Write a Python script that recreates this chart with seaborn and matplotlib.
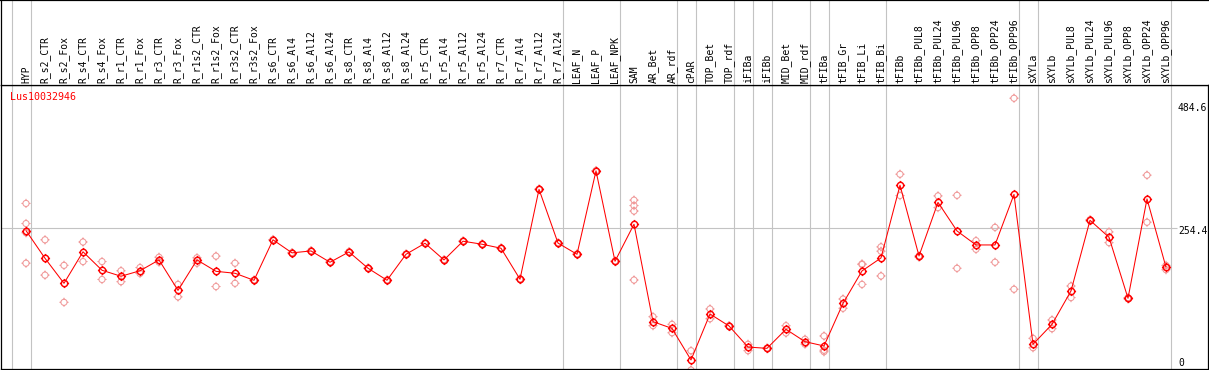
import numpy as np
import pandas as pd
import matplotlib
matplotlib.use("Agg")
import matplotlib.pyplot as plt
import seaborn as sns
from matplotlib.path import Path

# ---------------- data ----------------
title = "Lus10032946"

categories = [
    "HYP", "R_s2_CTR", "R_s2_Fox", "R_s4_CTR", "R_s4_Fox", "R_r1_CTR", "R_r1_Fox",
    "R_r3_CTR", "R_r3_Fox", "R_r1s2_CTR", "R_r1s2_Fox", "R_r3s2_CTR", "R_r3s2_Fox",
    "R_s6_CTR", "R_s6_Al4", "R_s6_Al12", "R_s6_Al24", "R_s8_CTR", "R_s8_Al4",
    "R_s8_Al12", "R_s8_Al24", "R_r5_CTR", "R_r5_Al4", "R_r5_Al12", "R_r5_Al24",
    "R_r7_CTR", "R_r7_Al4", "R_r7_Al12", "R_r7_Al24", "LEAF_N", "LEAF_P", "LEAF_NPK",
    "SAM", "AR_Bet", "AR_rdf", "cPAR", "TOP_Bet", "TOP_rdf", "iFIBa", "iFIBb",
    "MID_Bet", "MID_rdf", "tFIBa", "tFIB_Gr", "tFIB_Li", "tFIB_Bi", "tFIBb",
    "tFIBb_PUL8", "tFIBb_PUL24", "tFIBb_PUL96", "tFIBb_OPP8", "tFIBb_OPP24",
    "tFIBb_OPP96", "sXYLa", "sXYLb", "sXYLb_PUL8", "sXYLb_PUL24", "sXYLb_PUL96",
    "sXYLb_OPP8", "sXYLb_OPP24", "sXYLb_OPP96",
]

# number of consecutive categories in each sample group
group_sizes = [1, 28, 3, 3, 1, 2, 1, 1, 2, 1, 3, 7, 1, 7]

means = [
    250.3, 201.3, 157.0, 212.8, 180.1, 169.5, 179.2, 198.4, 144.5, 198.4, 178.2, 174.8, 162.3,
    234.0, 210.9, 214.3, 194.3, 212.5, 183.7, 162.4, 208.4,
    227.9, 198.4, 231.5, 226.2, 219.1, 164.2, 323.4, 228.2,
    208.4, 356.1, 196.0,
    261.6, 89.1, 77.2,
    21.3, 102.7, 81.5, 44.2, 41.9, 75.6, 53.7, 46.1,
    121.5, 178.9, 201.9,
    330.6, 205.4, 300.3, 249.7, 224.9, 224.9, 314.4,
    49.1, 84.4, 143.5, 268.6, 238.5, 130.5, 306.4, 185.4,
]

replicates = [
    [298.4, 262.8, 246.5, 192.6], [234.0, 171.5], [188.8, 123.4], [230.1, 195.5],
    [195.5, 163.8], [179.2, 159.9], [184.9, 174.4], [203.2, 194.5], [155.1, 133.0],
    [202.2, 192.6], [205.1, 151.3], [192.6, 157.0], [162.8, 161.8],
    [234.5, 233.5], [211.4, 210.4], [214.8, 213.8], [194.8, 193.8], [213.0, 212.0],
    [184.2, 183.2], [162.9, 161.9], [208.9, 207.9],
    [228.4, 227.4], [198.9, 197.9], [232.0, 231.0], [226.7, 225.7], [219.6, 218.6],
    [164.7, 163.7], [323.9, 322.9], [228.7, 227.7],
    [208.9, 207.9], [356.6, 355.6], [196.5, 195.5],
    [304.2, 294.6, 284.9, 162.8], [97.9, 82.0], [84.4, 69.5],
    [37.7, 3.5], [111.6, 94.3], [82.0, 81.0], [49.1, 37.8], [42.4, 41.4],
    [82.0, 69.1], [58.0, 49.3], [63.8, 38.6, 35.9],
    [129.2, 112.8], [191.3, 190.3, 155.1], [221.5, 213.8, 170.0],
    [350.1, 312.3], [205.4, 203.4], [311.7, 291.0], [312.8, 183.6],
    [232.5, 217.2], [256.1, 194.3], [484.6, 146.5],
    [59.6, 43.0], [92.1, 76.7], [152.2, 131.7], [269.5, 267.7], [247.9, 229.0],
    [131.5, 129.5], [348.4, 265.1], [188.7, 181.1],
]

y_tick_values = [484.6, 254.4, 0.0]
y_tick_labels = ["484.6", "254.4", "0"]

# ---------------- frames ----------------
idx = np.arange(len(categories))
df_mean = pd.DataFrame({"pos": idx, "category": categories, "value": means})
df_rep = pd.DataFrame(
    [(i, categories[i], v) for i, reps in enumerate(replicates) for v in reps],
    columns=["pos", "category", "value"],
)

sns.set_theme(style="white")
plt.rcParams["font.family"] = ["DejaVu Sans Mono", "DejaVu Sans"]
plt.rcParams["font.size"] = 7

W, H = 1209, 370
fig = plt.figure(figsize=(W / 100, H / 100), dpi=100)
fig.patch.set_facecolor("white")

ax = fig.add_axes([1 / W, 0.7 / H, 1207 / W, 284.3 / H])
axh = fig.add_axes([1 / W, 285 / H, 1207 / W, 84.6 / H], sharex=ax)

xlim = (-25 / 19, 1182 / 19)
ax.set_xlim(*xlim)
ax.set_ylim(4.8, 508.0)
axh.set_ylim(0, 1)


def make_marker(r):
    """Polygonal unit circle with four short ticks reaching radius r."""
    t = np.linspace(0, 2 * np.pi, 33)
    cv = np.column_stack([np.cos(t), np.sin(t)])
    tv = np.array([(0, 1), (0, r), (0, -1), (0, -r), (1, 0), (r, 0), (-1, 0), (-r, 0)])
    codes = [Path.MOVETO] + [Path.LINETO] * 32 + [Path.MOVETO, Path.LINETO] * 4
    return Path(np.vstack([cv, tv]), codes)


mk_rep = make_marker(1.5)
mk_mean = make_marker(1.45)

# grouping lines
ends = np.cumsum(group_sizes) - 1
sep_x = np.concatenate([[-1], ends]) + 0.24
for x in sep_x:
    ax.axvline(x, color="#c3c3c3", lw=0.8, zorder=0)
    axh.axvline(x, color="#c3c3c3", lw=0.8, zorder=0)

label_x = 60.63
ax.hlines(y_tick_values[1], xlim[0], label_x - 0.05, color="#c3c3c3", lw=0.8, zorder=0)

# replicates
sns.scatterplot(
    data=df_rep, x="pos", y="value", ax=ax, marker=mk_rep, s=6.6 ** 2,
    color="#f09a9a", facecolors="none", edgecolor="#f09a9a", linewidth=0.75,
    legend=False, zorder=2,
)

# means
sns.lineplot(
    data=df_mean, x="pos", y="value", ax=ax, color="red", lw=0.75,
    marker=mk_mean, markersize=6.6, markerfacecolor="none", markeredgecolor="red",
    markeredgewidth=1.05, errorbar=None, legend=False, zorder=3,
)

ax.set_xlabel("")
ax.set_ylabel("")
ax.set_xticks([])
ax.set_yticks([])
axh.set_xticks([])
axh.set_yticks([])
axh.tick_params(labelbottom=False)

for a in (ax, axh):
    for s in a.spines.values():
        s.set_color("black")
        s.set_linewidth(0.9)
axh.spines["right"].set_visible(False)
axh.spines["top"].set_linewidth(1.6)

# category labels (vertical, in header)
for i, name in enumerate(categories):
    axh.text(i, 0.024, name, rotation=90, ha="center", va="bottom",
             fontsize=7, color="black")

# title
ax.text(9 / 1207, 0.958, title, transform=ax.transAxes, color="red",
        fontsize=7.2, ha="left", va="center")

# right-hand value labels
offsets_px = [-9.4, -2.4, 9.3]
for v, lab, off in zip(y_tick_values, y_tick_labels, offsets_px):
    ax.annotate(lab, xy=(label_x, v), xycoords="data", xytext=(0, off * 0.72),
                textcoords="offset points", ha="left", va="center",
                fontsize=7, color="black", annotation_clip=False)

fig.savefig("out.png", dpi=100, facecolor="white")
